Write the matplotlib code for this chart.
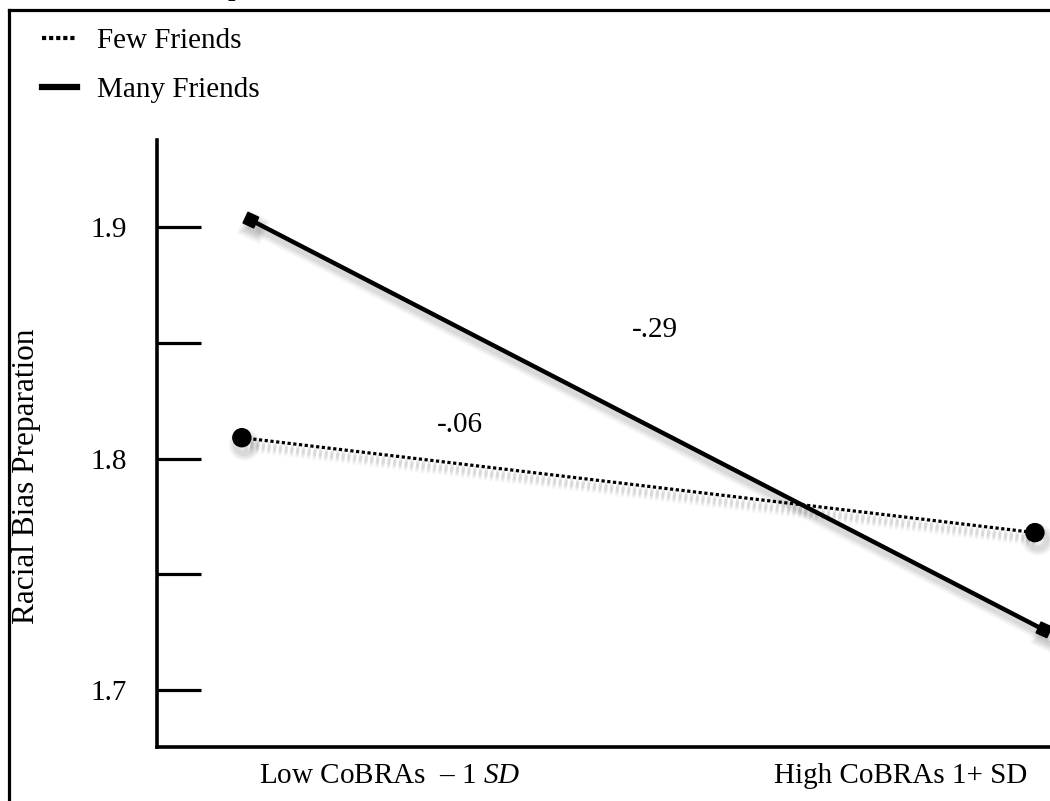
import matplotlib
matplotlib.use("Agg")
import matplotlib.pyplot as plt
import matplotlib.patheffects as pe
from matplotlib.transforms import ScaledTranslation
from matplotlib.lines import Line2D

plt.rcParams['font.family'] = ['Liberation Serif', 'DejaVu Serif']
plt.rcParams['mathtext.fontset'] = 'custom'
plt.rcParams['mathtext.rm'] = 'Liberation Serif'
plt.rcParams['mathtext.it'] = 'Liberation Serif:italic'

# ---- data ----
conditions = [0, 1]                     # Low CoBRAs (-1 SD), High CoBRAs (+1 SD)
x_labels = ["Low CoBRAs  \u2013 1 $\\mathit{SD}$", "High CoBRAs 1+ SD"]
few_friends = [1.809, 1.768]
many_friends = [1.903, 1.726]
series_names = ["Few Friends", "Many Friends"]
slope_labels = ["-.06", "-.29"]
y_ticks_major = [1.7, 1.8, 1.9]
y_ticks_minor = [1.75, 1.85]
y_title = "Racial Bias Preparation"

W, H = 1050, 801
FS = 21
fig = plt.figure(figsize=(W / 100, H / 100), dpi=100)
ax = fig.add_axes([157 / W, 54 / H, 1 - 157 / W, (747 - 140) / H])

ax.set_xlim(-0.107, 1.019)
ax.set_ylim(1.6754, 1.9376)

def shadow():
    return [pe.SimpleLineShadow(offset=(2, -5), shadow_color='black', alpha=0.04, linewidth=10),
            pe.SimpleLineShadow(offset=(2, -5), shadow_color='black', alpha=0.05, linewidth=7),
            pe.SimpleLineShadow(offset=(2, -5), shadow_color='black', alpha=0.06, linewidth=4),
            pe.Normal()]

# Few friends: dotted line with circles
ax.plot(conditions, few_friends, color='black', lw=2.3, ls=(0, (1, 0.8)),
        marker='o', ms=13, markerfacecolor='black', markeredgecolor='black',
        path_effects=shadow(), zorder=3, clip_on=False)

# Many friends: solid line with small squares, slightly offset to the right
off = ax.transData + ScaledTranslation(9 / 100, 0, fig.dpi_scale_trans)
ax.plot(conditions, many_friends, color='black', lw=3.2, ls='-',
        marker=(4, 0, 20), ms=12, markerfacecolor='black', markeredgecolor='black',
        transform=off, path_effects=shadow(), zorder=4, clip_on=False)

# slope annotations
ax.text(0.275, 1.8145, slope_labels[0], fontsize=FS, ha='center', va='center')
ax.text(0.521, 1.8555, slope_labels[1], fontsize=FS, ha='center', va='center')

# axes styling
for s in ['top', 'right']:
    ax.spines[s].set_visible(False)
for s in ['left', 'bottom']:
    ax.spines[s].set_linewidth(2.6)
ax.set_yticks(y_ticks_major)
ax.set_yticklabels([f"{v:.1f}" for v in y_ticks_major], fontsize=FS)
ax.set_yticks(y_ticks_minor, minor=True)
ax.tick_params(axis='y', which='both', direction='in', length=32, width=2.3)
ax.tick_params(axis='y', which='major', pad=21.6)
ax.set_xticks([])

# x category labels
ax.text((390 - 157) / (W - 157), -0.048, x_labels[0], transform=ax.transAxes,
        fontsize=FS, ha='center', va='center')
ax.text((901 - 157) / (W - 157), -0.048, x_labels[1], transform=ax.transAxes,
        fontsize=FS, ha='center', va='center')

# y title
fig.text(27 / W, 1 - 476 / H, y_title, rotation=90, fontsize=22.5, ha='center', va='center')
# title clipped at the top edge, as in the source image
fig.text(35 / W, 1 + 6 / H, y_title, fontsize=22.5, ha='left', va='baseline')

# legend
handles = [Line2D([], [], color='black', lw=3.0, ls=(0, (1, 0.7))),
           Line2D([], [], color='black', lw=4.5, ls='-')]
fig.legend(handles, series_names, loc='upper left', bbox_to_anchor=(42 / W, 1 - 28 / H),
           frameon=False, fontsize=FS, handlelength=1.2, handletextpad=0.7,
           labelspacing=0.75, borderpad=0, borderaxespad=0)

# outer frame (left and top)
fig.add_artist(Line2D([9 / W, 9 / W], [0, 1 - 10 / H], color='black', lw=2.3,
                      transform=fig.transFigure, solid_capstyle='projecting'))
fig.add_artist(Line2D([9 / W, 1], [1 - 10 / H, 1 - 10 / H], color='black', lw=2.3,
                      transform=fig.transFigure, solid_capstyle='projecting'))

fig.savefig("out.png", dpi=100)
